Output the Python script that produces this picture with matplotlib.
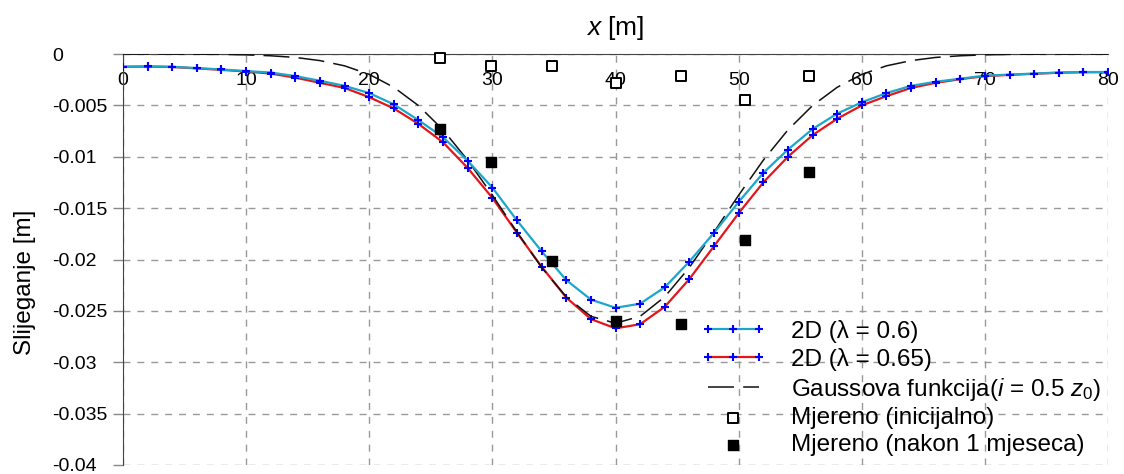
import numpy as np
import matplotlib
matplotlib.use('Agg')
import matplotlib.pyplot as plt

plt.rcParams['font.family'] = ['Liberation Sans', 'DejaVu Sans']
plt.rcParams['mathtext.fontset'] = 'custom'
plt.rcParams['mathtext.rm'] = 'Liberation Sans'
plt.rcParams['mathtext.it'] = 'Liberation Sans:italic'

# 2D proracun, tocke svakih 2 m
x_2d = np.arange(0, 82, 2)
s_06 = [-0.00124, -0.00120, -0.00124, -0.00137, -0.00150, -0.00166, -0.00180, -0.00215,
        -0.00260, -0.00310, -0.00380, -0.00490, -0.00644, -0.00810, -0.01040, -0.01300,
        -0.01620, -0.01920, -0.02200, -0.02390, -0.02470, -0.02430, -0.02270, -0.02020,
        -0.01740, -0.01440, -0.01157, -0.00930, -0.00730, -0.00580, -0.00470, -0.00380,
        -0.00310, -0.00270, -0.00240, -0.00210, -0.00200, -0.00190, -0.00180, -0.00175,
        -0.00175]
s_065 = [-0.00124, -0.00122, -0.00126, -0.00140, -0.00154, -0.00170, -0.00190, -0.00230,
         -0.00280, -0.00330, -0.00420, -0.00530, -0.00680, -0.00860, -0.01110, -0.01400,
         -0.01740, -0.02070, -0.02370, -0.02580, -0.02670, -0.02630, -0.02460, -0.02190,
         -0.01870, -0.01550, -0.01250, -0.01000, -0.00790, -0.00630, -0.00500, -0.00410,
         -0.00330, -0.00280, -0.00245, -0.00215, -0.00203, -0.00192, -0.00182, -0.00177,
         -0.00176]

# Gaussova krivulja (ocitano)
x_g = np.arange(0, 82, 2)
s_g = [-0.000001, -0.000002, -0.000006, -0.000015, -0.000035, -0.00008, -0.00017, -0.00033,
       -0.00064, -0.00115, -0.00198, -0.00324, -0.00502, -0.00739, -0.01034, -0.01374,
       -0.01733, -0.02077, -0.02363, -0.02553, -0.02620, -0.02553, -0.02363, -0.02077,
       -0.01733, -0.01374, -0.01034, -0.00739, -0.00502, -0.00324, -0.00198, -0.00115,
       -0.00064, -0.00033, -0.00017, -0.00008, -0.000035, -0.000015, -0.000006, -0.000002,
       -0.000001]

# mjerenja
x_mj = [25.75, 29.87, 34.85, 40.05, 45.3, 50.5, 55.7]
s_init = [-0.00036, -0.00114, -0.0012, -0.00286, -0.00215, -0.0045, -0.00215]
s_1mj = [-0.00725, -0.0105, -0.0201, -0.0260, -0.0263, -0.0181, -0.01148]

yticks = [0, -0.005, -0.01, -0.015, -0.02, -0.025, -0.03, -0.035, -0.04]
ylabels = ['0', '-0.005', '-0.01', '-0.015', '-0.02', '-0.025', '-0.03', '-0.035', '-0.04']
xticks = [0, 10, 20, 30, 40, 50, 60, 70, 80]

fig = plt.figure(figsize=(11.24, 4.74), dpi=100)
ax = fig.add_axes([0.1094, 0.019, 0.8764, 0.867])

ax.plot(x_2d, s_06, color='#1ba6cc', lw=1.6, marker='+', ms=6, mew=1.5, mec='#0000ff',
        label='2D (λ = 0.6)', zorder=4)
ax.plot(x_2d, s_065, color='#e3161b', lw=1.6, marker='+', ms=6, mew=1.5, mec='#0000ff',
        label='2D (λ = 0.65)', zorder=3)
ax.plot(x_g, s_g, color='#111111', lw=1.1, dashes=(17, 6),
        label='Gaussova funkcija($i$ = 0.5 $z_{\\mathit{0}}$)', zorder=3)
ax.scatter(x_mj, s_init, marker='s', s=42, facecolor='white', edgecolor='black', lw=1.4,
           label='Mjereno (inicijalno)', zorder=5, clip_on=False)
ax.scatter(x_mj, s_1mj, marker='s', s=62, color='black', label='Mjereno (nakon 1 mjeseca)',
           zorder=5)

ax.set_xlim(0, 80)
ax.set_ylim(-0.04, 0)
ax.set_xticks(xticks)
ax.set_yticks(yticks)
ax.set_yticklabels(ylabels)
for t in ax.get_yticklabels():
    t.set_horizontalalignment('left')

ax.xaxis.tick_top()
ax.tick_params(axis='x', length=0, pad=-25, labelsize=14)
ax.tick_params(axis='y', length=7, width=1, color='#888888', pad=44, labelsize=14)

ax.grid(True, color='#999999', lw=1, dashes=(5, 5))
ax.spines['right'].set_visible(False)
ax.spines['bottom'].set_visible(False)
ax.spines['top'].set_color('#444444')
ax.spines['left'].set_color('#444444')

ax.set_ylabel('Slijeganje [m]', fontsize=17.5)
ax.yaxis.set_label_coords(-0.0883, 0.445)
ax.text(0.5, 1.03, '$x$ [m]', transform=ax.transAxes, ha='center', va='bottom', fontsize=19)

ax.legend(loc='lower right', bbox_to_anchor=(1.015, -0.032), frameon=False, fontsize=17.5,
          numpoints=3, scatterpoints=1, handlelength=2.7, labelspacing=0.2, handletextpad=1.0)

fig.savefig('out.png', dpi=100)
